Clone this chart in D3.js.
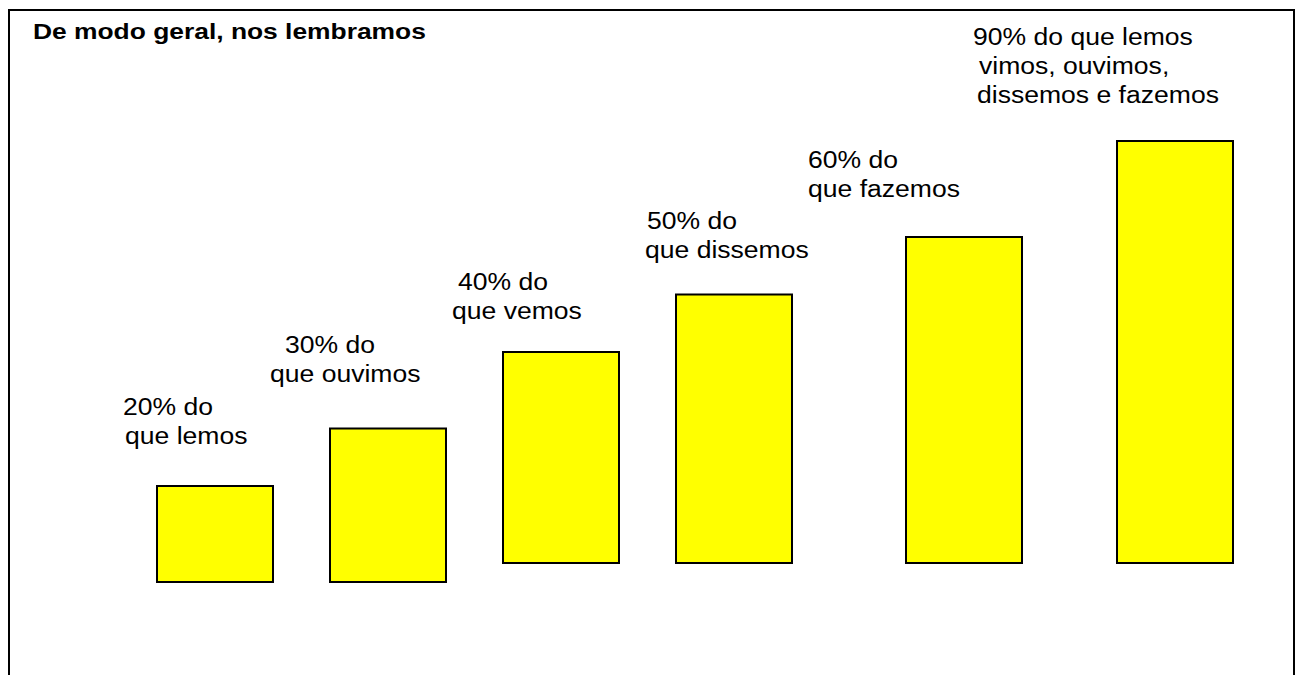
<!DOCTYPE html>
<html>
<head>
<meta charset="utf-8">
<script src="https://cdn.jsdelivr.net/npm/d3@7/dist/d3.min.js"></script>
<style>
  html, body { margin: 0; padding: 0; background: #fff; }
  svg { display: block; }
  text { font-family: "Liberation Sans", Arial, sans-serif; fill: #000; }
</style>
</head>
<body>
<script>
// ---- data ----
const title = "De modo geral, nos lembramos";
const categories = ["lemos", "ouvimos", "vemos", "dissemos", "fazemos", "todos"];
const values = [20, 30, 40, 50, 60, 90];
const labelLines = [
  ["20% do", "que lemos"],
  ["30% do", "que ouvimos"],
  ["40% do", "que vemos"],
  ["50% do", "que dissemos"],
  ["60% do", "que fazemos"],
  ["90% do que lemos", "vimos, ouvimos,", "dissemos e fazemos"]
];

// ---- layout ----
const W = 1301, H = 675;
const barLeft = [157, 330, 503, 676, 906, 1117];
const barW = 116;
const baseLow = 582, baseHigh = 563;        // first two boxes sit lower
const labelAnchor = [[123, 415], [285, 353], [458, 290], [647, 229], [808, 168], [973, 45]];
const lineDx = [[0, 2], [0, -15], [0, -6], [0, -2], [0, 0], [0, 6, 4]];
const lineH = 29;
const sx = 1.13;

const svg = d3.select("body").append("svg").attr("width", W).attr("height", H);

// frame
svg.append("rect")
  .attr("x", 9).attr("y", 10).attr("width", 1285).attr("height", 700)
  .attr("fill", "none").attr("stroke", "#000").attr("stroke-width", 2);

// scales
const x = d3.scaleOrdinal().domain(categories).range(barLeft);
const h = d3.scaleLinear().domain([20, 60, 90]).range([96, 326, 422]);
const base = (i) => i < 2 ? baseLow : baseHigh;

// bars
svg.selectAll("rect.bar").data(values).join("rect")
  .attr("class", "bar")
  .attr("x", (d, i) => x(categories[i]))
  .attr("y", (d, i) => base(i) - h(d))
  .attr("width", barW)
  .attr("height", d => h(d))
  .attr("fill", "#ffff00")
  .attr("stroke", "#000")
  .attr("stroke-width", 2);

// title
svg.append("text")
  .attr("transform", `translate(33,39) scale(1.2,1)`)
  .attr("font-size", 22).attr("font-weight", "bold")
  .text(title);

// labels
labelLines.forEach((lines, i) => {
  lines.forEach((t, j) => {
    svg.append("text")
      .attr("transform", `translate(${labelAnchor[i][0] + lineDx[i][j]},${labelAnchor[i][1] + j * lineH}) scale(${sx},1)`)
      .attr("font-size", 23.5)
      .text(t);
  });
});
</script>
</body>
</html>
